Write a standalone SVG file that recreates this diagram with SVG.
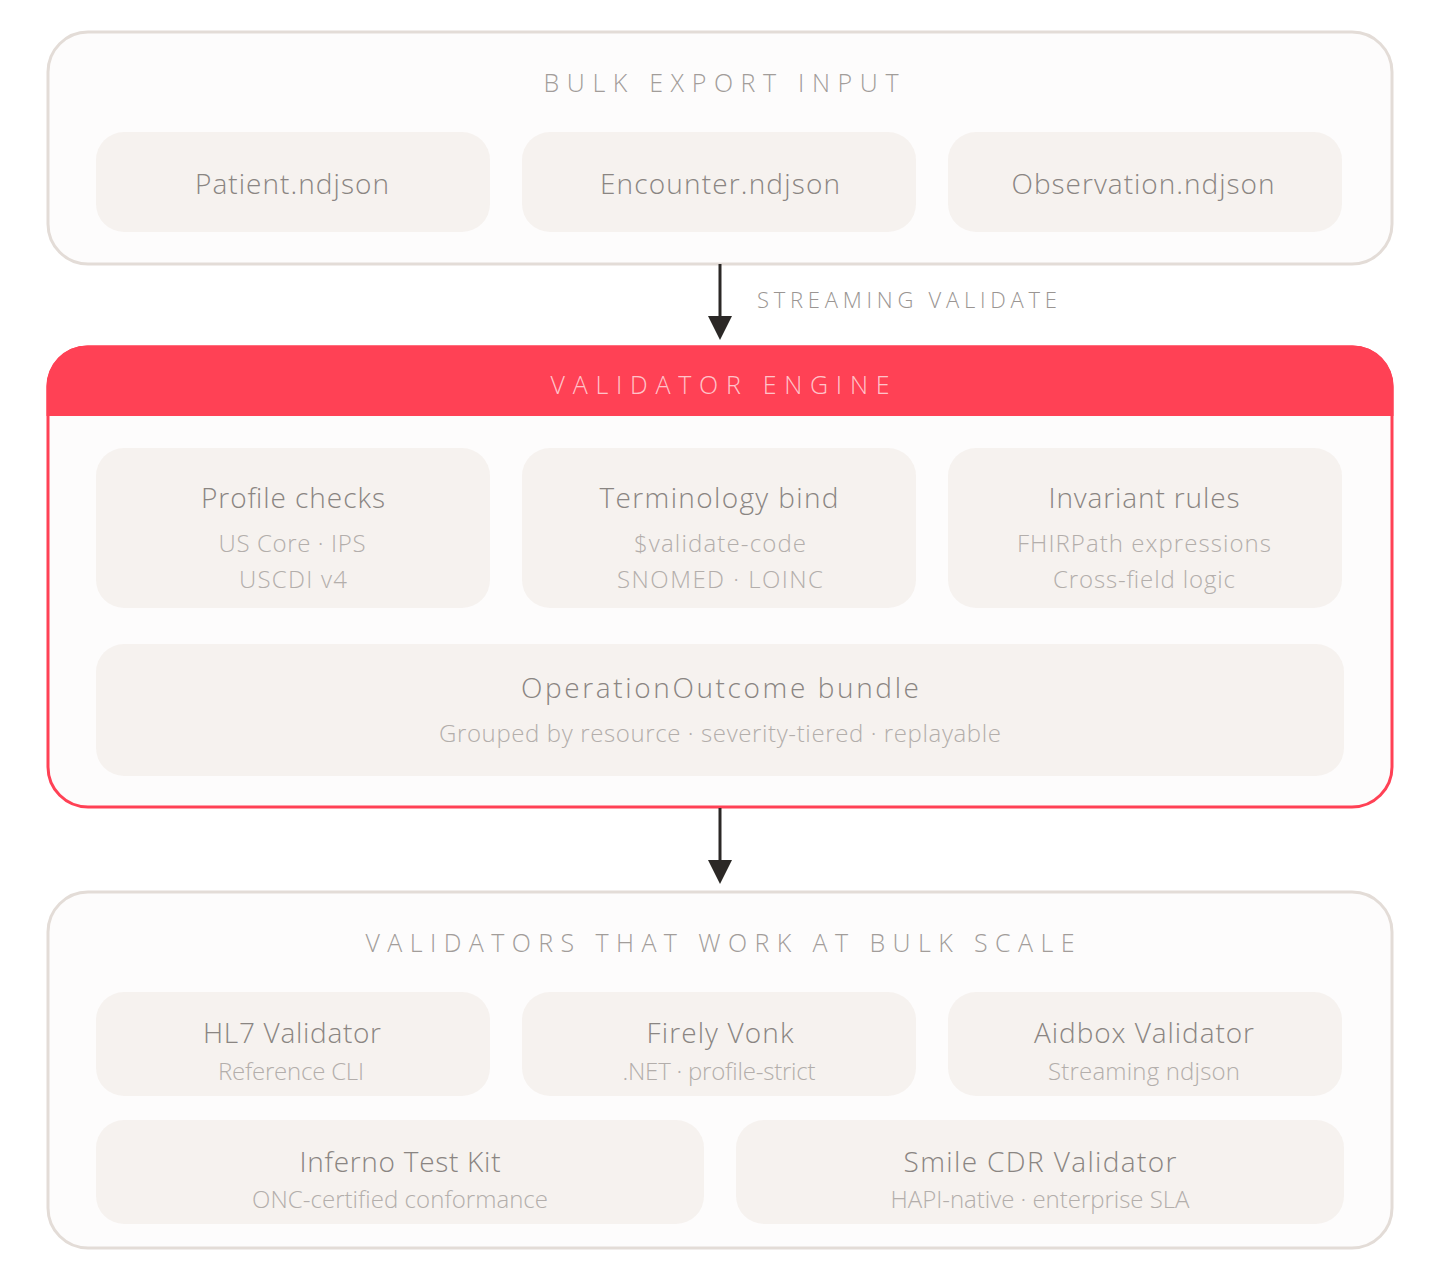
<svg xmlns="http://www.w3.org/2000/svg" width="1440" height="1280" viewBox="0 0 1440 1280">
<defs>
<style>
.panel{fill:#fdfcfc;stroke:#e3dcd7;stroke-width:3}
.card{fill:#f6f2ef}
.t{font-family:"Open Sans","Liberation Sans",sans-serif;font-weight:300;text-anchor:middle}
.cap{font-size:25px;fill:#a29d9a}
.title{font-size:28px;fill:#8a8582}
.sub{font-size:24px;fill:#b3aeab}
.conn{stroke:#2b2826;stroke-width:3;fill:none}
</style>
<marker id="ah" viewBox="0 0 24 24" markerWidth="24" markerHeight="24" refX="0" refY="12" orient="auto" markerUnits="userSpaceOnUse">
<path d="M0,0 L24,12 L0,24 Z" fill="#2b2826"/>
</marker>
</defs>
<rect width="1440" height="1280" fill="#ffffff"/>

<g id="bulk-export-input">
<rect class="panel" x="48" y="32" width="1344" height="232" rx="40"/>
<text class="t cap" x="721" y="92" textLength="355">BULK EXPORT INPUT</text>
<g id="patient"><rect class="card" x="96" y="132" width="394" height="100" rx="28"/><text class="t title" x="292" y="194" textLength="194">Patient.ndjson</text></g>
<g id="encounter"><rect class="card" x="522" y="132" width="394" height="100" rx="28"/><text class="t title" x="720" y="194" textLength="240">Encounter.ndjson</text></g>
<g id="observation"><rect class="card" x="948" y="132" width="394" height="100" rx="28"/><text class="t title" x="1143" y="194" textLength="263">Observation.ndjson</text></g>
</g>

<g id="validator-engine">
<rect x="48" y="347" width="1344" height="460" rx="40" fill="#fdfcfc" stroke="#ff4155" stroke-width="3"/>
<path d="M46.5,416 L46.5,387 A40.5,40.5 0 0 1 87,345.5 L1353,345.5 A40.5,40.5 0 0 1 1393.5,387 L1393.5,416 Z" fill="#ff4155"/>
<text class="t cap" x="720" y="394" textLength="339" style="fill:#ffffff;fill-opacity:0.7">VALIDATOR ENGINE</text>
<g id="profile-checks"><rect class="card" x="96" y="448" width="394" height="160" rx="28"/>
<text class="t title" x="293" y="508" textLength="184">Profile checks</text>
<text class="t sub" x="292" y="552" textLength="147">US Core · IPS</text>
<text class="t sub" x="293" y="588" textLength="108">USCDI v4</text></g>
<g id="terminology-bind"><rect class="card" x="522" y="448" width="394" height="160" rx="28"/>
<text class="t title" x="719" y="508" textLength="239">Terminology bind</text>
<text class="t sub" x="720" y="552" textLength="172">$validate-code</text>
<text class="t sub" x="720" y="588" textLength="206">SNOMED · LOINC</text></g>
<g id="invariant-rules"><rect class="card" x="948" y="448" width="394" height="160" rx="28"/>
<text class="t title" x="1144" y="508" textLength="191">Invariant rules</text>
<text class="t sub" x="1144" y="552" textLength="254">FHIRPath expressions</text>
<text class="t sub" x="1144" y="588" textLength="182">Cross-field logic</text></g>
<g id="operation-outcome"><rect class="card" x="96" y="644" width="1248" height="132" rx="28"/>
<text class="t title" x="720" y="698" textLength="398">OperationOutcome bundle</text>
<text class="t sub" x="720" y="742" textLength="562">Grouped by resource · severity-tiered · replayable</text></g>
</g>

<g id="validators">
<rect class="panel" x="48" y="892" width="1344" height="356" rx="40"/>
<text class="t cap" x="720" y="952" textLength="709">VALIDATORS THAT WORK AT BULK SCALE</text>
<g id="hl7"><rect class="card" x="96" y="992" width="394" height="104" rx="28"/>
<text class="t title" x="292" y="1043" textLength="178">HL7 Validator</text>
<text class="t sub" x="291" y="1080" textLength="146">Reference CLI</text></g>
<g id="firely"><rect class="card" x="522" y="992" width="394" height="104" rx="28"/>
<text class="t title" x="720" y="1043" textLength="147">Firely Vonk</text>
<text class="t sub" x="719" y="1080" textLength="193">.NET · profile-strict</text></g>
<g id="aidbox"><rect class="card" x="948" y="992" width="394" height="104" rx="28"/>
<text class="t title" x="1144" y="1043" textLength="220">Aidbox Validator</text>
<text class="t sub" x="1144" y="1080" textLength="192">Streaming ndjson</text></g>
<g id="inferno"><rect class="card" x="96" y="1120" width="608" height="104" rx="28"/>
<text class="t title" x="400" y="1172" textLength="201">Inferno Test Kit</text>
<text class="t sub" x="400" y="1208" textLength="296">ONC-certified conformance</text></g>
<g id="smile"><rect class="card" x="736" y="1120" width="608" height="104" rx="28"/>
<text class="t title" x="1040" y="1172" textLength="273">Smile CDR Validator</text>
<text class="t sub" x="1040" y="1208" textLength="299">HAPI-native · enterprise SLA</text></g>
</g>

<g id="connectors">
<line class="conn" x1="720" y1="264" x2="720" y2="316" marker-end="url(#ah)"/>
<text class="t" x="757" y="308" textLength="300" style="text-anchor:start;font-size:22px;fill:#9a9592">STREAMING VALIDATE</text>
<line class="conn" x1="720" y1="808" x2="720" y2="860" marker-end="url(#ah)"/>
</g>
</svg>
